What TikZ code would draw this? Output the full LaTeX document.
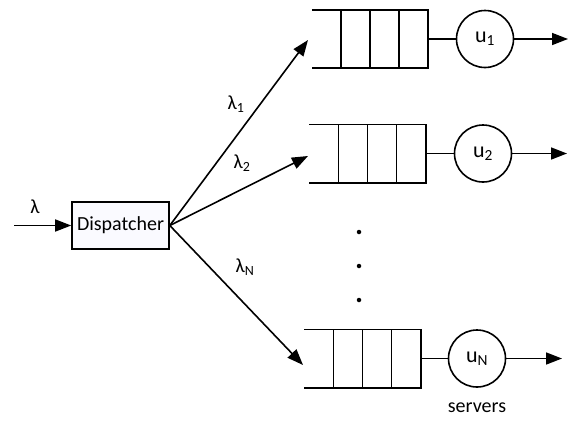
\documentclass[tikz,border=0pt]{standalone}
\usepackage{fontspec}
\setmainfont{Carlito}
\usetikzlibrary{arrows.meta,calc}
\begin{document}
\begin{tikzpicture}[x=1pt,y=-1pt,
  every node/.style={font=\fontsize{20}{24}\selectfont},
  line/.style={line width=1.6pt},
  arr/.style={line width=1.6pt,-{Triangle[length=16pt,width=12pt]}},
  dispbox/.style={draw,line width=1.6pt,fill=blue!2,minimum width=97pt,minimum height=47pt,inner sep=0pt},
  slot/.style={minimum width=116pt,minimum height=58pt,inner sep=0pt},
  server/.style={circle,draw,line width=1.6pt,minimum size=57pt,inner sep=0pt,font=\fontsize{22}{26}\selectfont},
  lbl/.style={inner sep=0pt},
  dot/.style={circle,fill=black,minimum size=4.5pt,inner sep=0pt}]
\useasboundingbox (0,0) rectangle (569,421);

% dispatcher
\node[dispbox] (d) at (120.5,225.5) {Dispatcher};
\coordinate (in) at (14,225.5);
\draw[arr] (in) -- (d.west);
\node[lbl] (lam) at (35,207) {λ};

% queue buffers (open on the left, four slots)
\newcommand{\buffer}[1]{%
  \draw[line] (#1.north west) -- (#1.north east) -- (#1.south east) -- (#1.south west);
  \foreach \f in {0.25,0.5,0.75}
    \draw[line] ($(#1.north west)!\f!(#1.north east)$) -- ($(#1.south west)!\f!(#1.south east)$);
}
\node[slot] (q1) at (370,39) {};
\node[slot] (q2) at (367.5,153.5) {};
\node[slot] (qN) at (362.5,358.5) {};
\buffer{q1}
\buffer{q2}
\buffer{qN}

% servers
\node[server] (s1) at (485,39) {u\textsubscript{1}};
\node[server] (s2) at (483,153.5) {u\textsubscript{2}};
\node[server] (sN) at (477,358.5) {u\textsubscript{N}};
\draw[line] (q1.east) -- (s1.west);
\draw[line] (q2.east) -- (s2.west);
\draw[line] (qN.east) -- (sN.west);

\coordinate (o1) at (568,39);
\coordinate (o2) at (567,153.5);
\coordinate (oN) at (562,358.5);
\draw[arr] (s1.east) -- (o1);
\draw[arr] (s2.east) -- (o2);
\draw[arr] (sN.east) -- (oN);

\node[lbl] (srv) at (477,408) {servers};

% routing from the dispatcher
\coordinate (t1) at (308,40);
\coordinate (t2) at (308,156);
\coordinate (tN) at (303,365);
\draw[arr] (d.east) -- (t1);
\draw[arr] (d.east) -- (t2);
\draw[arr] (d.east) -- (tN);

\node[lbl] (l1) at (236,104) {λ\textsubscript{1}};
\node[lbl] (l2) at (242,163) {λ\textsubscript{2}};
\node[lbl] (lN) at (245,267) {λ\textsubscript{N}};

\node[dot] (p1) at (359,232) {};
\node[dot] (p2) at (359,266) {};
\node[dot] (p3) at (359,300) {};
\end{tikzpicture}
\end{document}
